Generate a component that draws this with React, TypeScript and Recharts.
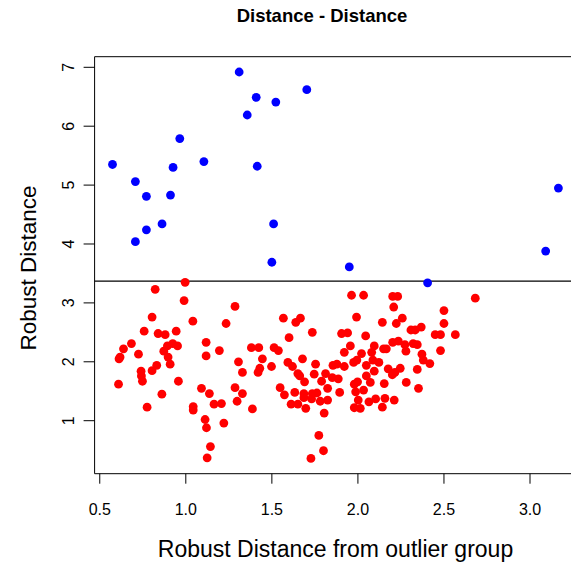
import React from 'react';
import { ScatterChart, Scatter, XAxis, YAxis, ReferenceLine, Customized } from 'recharts';

const FONT = '"Liberation Sans", Arial, Helvetica, sans-serif';

const title = 'Distance - Distance';
const xLabel = 'Robust Distance from outlier group';
const yLabel = 'Robust Distance';

const xTicks = [0.5, 1.0, 1.5, 2.0, 2.5, 3.0];
const yTicks = [1, 2, 3, 4, 5, 6, 7];
const xDomain = [0.47, 3.269];
const yDomain = [0.1, 7.18];
const cutoff = 3.37;

// Outliers (blue)
const blueX = [0.574, 0.707, 0.771, 0.911, 0.862, 0.771, 0.707, 0.926, 0.965, 1.105, 1.31, 1.409, 1.523, 1.703, 1.357, 1.415, 1.51, 1.50, 1.95, 2.405, 3.091, 3.165];
const blueY = [5.35, 5.06, 4.81, 4.83, 4.34, 4.24, 4.04, 5.30, 5.79, 5.40, 6.92, 6.49, 6.41, 6.62, 6.19, 5.32, 4.34, 3.69, 3.61, 3.34, 3.88, 4.95];

// Regular observations (red)
const redX = [
  0.996, 0.822, 0.990, 0.804, 1.041, 0.758, 0.839, 0.880, 0.944, 0.684, 0.638, 0.618, 0.612, 0.725, 0.893, 0.924, 0.952, 0.872, 0.897, 0.909,
  0.831, 0.804, 0.740, 0.742, 0.748, 0.609, 0.957, 0.861, 0.775, 1.043, 1.043,
  1.286, 1.234, 1.118, 1.195, 1.118, 1.091, 1.137, 1.164, 1.207, 1.112, 1.120, 1.221, 1.143, 1.124, 1.306, 1.329, 1.286, 1.329, 1.298, 1.387,
  1.381, 1.424, 1.445, 1.430, 1.420, 1.498, 1.513, 1.538, 1.567, 1.600, 1.639, 1.666, 1.593, 1.620, 1.651, 1.662, 1.690, 1.678, 1.548, 1.573,
  1.633, 1.686, 1.686, 1.612, 1.651, 1.697,
  1.963, 2.033, 2.202, 2.231, 2.208, 1.992, 2.142, 2.258, 2.223, 2.308, 1.735, 1.905, 1.940, 2.045, 1.956, 1.921, 2.021, 2.095, 2.149, 2.165,
  2.202, 2.235, 2.273, 2.279, 2.080, 2.087, 2.122, 1.975, 1.994, 2.049, 1.921, 1.878, 1.855, 1.754, 1.746, 1.812, 1.851, 1.886, 1.789, 1.824,
  1.979, 1.998, 2.049, 2.095, 2.072, 2.033, 1.987, 2.176, 2.200, 2.215, 2.246, 2.153, 2.281, 1.894, 1.735, 1.762, 1.731, 1.781, 1.824, 1.804,
  1.773, 1.800, 1.727, 2.002, 1.979, 2.014, 2.064, 2.103, 2.157, 2.211, 2.142,
  2.682, 2.500, 2.500, 2.368, 2.333, 2.449, 2.480, 2.566, 2.321, 2.345, 2.480, 2.372, 2.380, 2.418, 2.345, 2.352,
];
const redY = [
  3.35, 3.23, 3.04, 2.76, 2.69, 2.52, 2.48, 2.46, 2.52, 2.31, 2.22, 2.08, 2.05, 2.13, 2.27, 2.31, 2.27, 2.18, 2.08, 1.96,
  1.94, 1.85, 1.84, 1.76, 1.67, 1.62, 1.67, 1.45, 1.23, 1.24, 1.18,
  2.94, 2.65, 2.33, 2.19, 2.10, 1.55, 1.46, 1.28, 1.29, 1.02, 0.88, 0.96, 0.56, 0.37, 2.00, 1.82, 1.56, 1.46, 1.33, 1.20,
  2.24, 2.24, 2.05, 1.89, 1.82, 1.92, 2.24, 2.19, 2.74, 2.41, 2.67, 2.74, 1.99, 1.92, 1.80, 1.76, 1.66, 2.05, 1.56, 1.44,
  1.48, 1.46, 1.39, 1.28, 1.28, 1.21,
  3.13, 3.13, 3.11, 3.11, 2.93, 2.76, 2.67, 2.74, 2.65, 2.54, 2.50, 2.48, 2.49, 2.44, 2.27, 2.16, 2.14, 2.27, 2.22, 2.22,
  2.33, 2.35, 2.29, 2.18, 2.16, 2.03, 1.99, 1.99, 2.03, 1.94, 1.92, 1.96, 1.94, 1.96, 1.79, 1.80, 1.73, 1.71, 1.67, 1.55,
  1.62, 1.66, 1.76, 1.84, 1.65, 1.52, 1.49, 1.88, 1.78, 1.82, 1.89, 1.63, 1.65, 1.48, 1.46, 1.47, 1.37, 1.33, 1.35, 1.13,
  0.75, 0.49, 0.36, 1.35, 1.22, 1.21, 1.32, 1.37, 1.38, 1.35, 1.23,
  3.08, 2.87, 2.65, 2.59, 2.54, 2.46, 2.46, 2.46, 2.31, 2.29, 2.19, 2.13, 2.03, 1.97, 1.87, 1.55,
];

const blueData = blueX.map((x, i) => ({ x, y: blueY[i] }));
const redData = redX.map((x, i) => ({ x, y: redY[i] }));

const YTick = (props: any) => {
  const { x, y, payload } = props;
  return (
    <text
      x={x}
      y={y}
      transform={`rotate(-90, ${x}, ${y})`}
      textAnchor="middle"
      fontSize={16}
      fill="#000"
      fontFamily={FONT}
    >
      {payload.value}
    </text>
  );
};

const Labels = () => (
  <g fontFamily={FONT} fill="#000">
    <text x={322} y={22} textAnchor="middle" fontWeight="bold" fontSize={18.5}>{title}</text>
    <text x={335.5} y={557} textAnchor="middle" fontSize={23}>{xLabel}</text>
    <text x={36} y={268} transform="rotate(-90, 36, 268)" textAnchor="middle" fontSize={22.5}>{yLabel}</text>
  </g>
);

const dot = (color: string) => (p: any) => <circle cx={p.cx} cy={p.cy} r={4.4} fill={color} />;

export default function App() {
  return (
    <div style={{ position: 'absolute', left: 0, top: 0, width: 571, height: 567, overflow: 'hidden', background: '#fff' }}>
      <ScatterChart width={590} height={567} margin={{ top: 56.7, right: 13.7, bottom: 0, left: 0 }}>
        <XAxis
          dataKey="x"
          type="number"
          domain={xDomain}
          ticks={xTicks}
          interval={0}
          allowDataOverflow
          tickFormatter={(v: number) => v.toFixed(1)}
          height={93.3}
          tickSize={10}
          tickMargin={20}
          axisLine={{ stroke: '#000', strokeWidth: 1 }}
          tickLine={{ stroke: '#000', strokeWidth: 1 }}
          tick={{ fontSize: 16, fill: '#000', fontFamily: FONT }}
        />
        <YAxis
          dataKey="y"
          type="number"
          domain={yDomain}
          ticks={yTicks}
          interval={0}
          allowDataOverflow
          width={94.6}
          tickSize={11}
          tickMargin={10}
          axisLine={{ stroke: '#000', strokeWidth: 1 }}
          tickLine={{ stroke: '#000', strokeWidth: 1 }}
          tick={<YTick />}
        />
        <ReferenceLine y={yDomain[1]} stroke="#000" strokeWidth={1} />
        <ReferenceLine x={xDomain[1]} stroke="#000" strokeWidth={1} />
        <ReferenceLine y={cutoff} stroke="#000" strokeWidth={1.3} />
        <Scatter data={redData} fill="#ff0000" shape={dot('#ff0000')} isAnimationActive={false} />
        <Scatter data={blueData} fill="#0000ff" shape={dot('#0000ff')} isAnimationActive={false} />
        <Customized component={Labels} />
      </ScatterChart>
    </div>
  );
}
